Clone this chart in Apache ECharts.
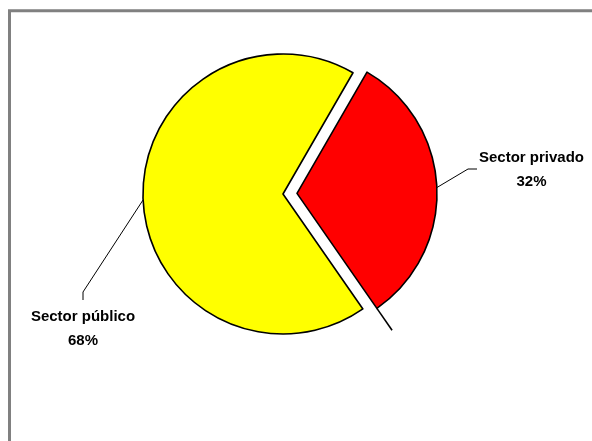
<!DOCTYPE html>
<html><head><meta charset="utf-8">
<script src="https://cdn.jsdelivr.net/npm/echarts@6/dist/echarts.min.js"></script>
<style>html,body{margin:0;padding:0;background:#fff}#c{width:592px;height:441px}</style>
</head><body><div id="c"></div>
<script>
const categories = ['Sector privado', 'Sector público'];
const values = [32, 68];
const colors = ['#FF0000', '#FFFF00'];
const exploded = [true, false];

const pieCenter = [283, 194];
const pieRadius = 140;
const startAngle = 60;
const explodeOffset = 14;

const labelFont = "'Liberation Sans', Arial, sans-serif";
const total = values.reduce((s, v) => s + v, 0);

function angleBefore(idx) {
  let acc = 0;
  for (let i = 0; i < idx; i++) acc += values[i];
  return startAngle - acc / total * 360;
}
function midAngleDeg(idx) {
  return angleBefore(idx) - values[idx] / total * 180;
}
const explodedIdx = exploded.indexOf(true);
const mRad = midAngleDeg(explodedIdx) * Math.PI / 180;
const explodedCenter = [pieCenter[0] + explodeOffset * Math.cos(mRad), pieCenter[1] - explodeOffset * Math.sin(mRad)];

function labelLayout(p) {
  const a = p.labelLinePoints ? p.labelLinePoints[0] : null;
  if (p.dataIndex === 0) {
    const lx = 479, ly = 169;
    return {
      x: lx + p.labelRect.width / 2, y: ly + 1, align: 'center', verticalAlign: 'middle',
      labelLinePoints: a ? [a, [lx - 11, ly], [lx - 2, ly]] : undefined
    };
  } else {
    const cx = 83, ty = 302;
    return {
      x: cx, y: ty + 3 + p.labelRect.height / 2, align: 'center', verticalAlign: 'middle',
      labelLinePoints: a ? [a, [cx, ty - 10], [cx, ty - 2]] : undefined
    };
  }
}

function makeSeries(showExploded) {
  const center = showExploded ? explodedCenter : pieCenter;
  return {
    type: 'pie',
    center: center,
    radius: pieRadius,
    startAngle: startAngle,
    clockwise: true,
    avoidLabelOverlap: false,
    silent: true,
    emphasis: {disabled: true},
    label: {
      position: 'outside',
      formatter: p => p.name + '\n' + Math.round(p.percent) + '%',
      fontFamily: labelFont, fontWeight: 'bold', fontSize: 15, lineHeight: 24,
      color: '#000', align: 'center'
    },
    labelLine: {length: 20, length2: 9, lineStyle: {color: '#000', width: 1}},
    labelLayout: labelLayout,
    data: categories.map((n, i) => {
      const visible = exploded[i] === showExploded;
      return {
        name: n, value: values[i],
        itemStyle: visible ? {color: colors[i], borderColor: '#000', borderWidth: 1.6}
                           : {color: 'rgba(0,0,0,0)', borderWidth: 0},
        label: {show: visible},
        labelLine: {show: visible}
      };
    })
  };
}

// radial stroke that continues the exploded slice's trailing edge beyond its rim
const endRad = angleBefore(explodedIdx + 1) * Math.PI / 180;
const edgeExt = [1, 1.19].map(k => [
  explodedCenter[0] + pieRadius * k * Math.cos(endRad),
  explodedCenter[1] - pieRadius * k * Math.sin(endRad)
]);

const chart = echarts.init(document.getElementById('c'), null, {renderer: 'canvas'});
chart.setOption({
  animation: false,
  graphic: [{
    type: 'rect', silent: true, z: 0,
    shape: {x: 9.5, y: 10.8, width: 700, height: 500},
    style: {fill: 'none', stroke: '#808080', lineWidth: 3}
  }, {
    type: 'polyline', silent: true, z: 10,
    shape: {points: edgeExt},
    style: {stroke: '#000', lineWidth: 1.6}
  }],
  series: [makeSeries(false), makeSeries(true)]
});
</script></body></html>
